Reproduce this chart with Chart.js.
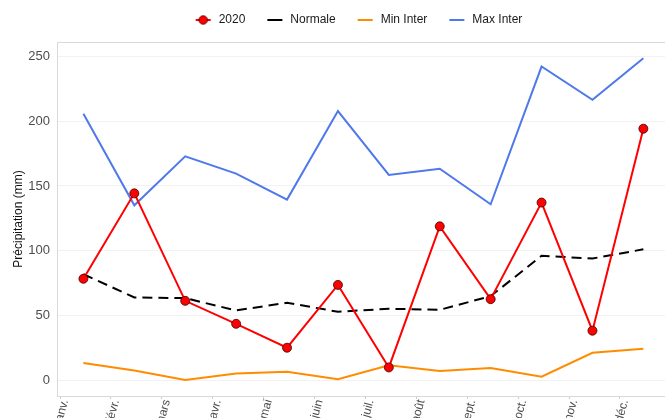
<!DOCTYPE html>
<html>
<head>
<meta charset="utf-8">
<script src="https://cdn.jsdelivr.net/npm/chart.js@4/dist/chart.umd.min.js"></script>
<style>
  html, body { margin: 0; padding: 0; background: #ffffff; }
  #wrap { width: 665px; height: 418px; position: relative; }
</style>
</head>
<body>
<div id="wrap"><canvas id="c" width="665" height="418"></canvas></div>
<script>
// ---- Data ----
const months = ["janv.", "févr.", "mars", "avr.", "mai", "juin", "juil.", "août", "sept.", "oct.", "nov.", "déc."];
const yTicks = [0, 50, 100, 150, 200, 250];
const series2020 = [78.5, 144.3, 61.5, 43.8, 25.4, 73.8, 10.2, 118.9, 62.8, 137.2, 38.5, 194.1];
const normale    = [82.0, 64.1, 63.6, 54.1, 60.0, 53.1, 55.4, 54.6, 65.1, 96.2, 94.1, 101.2];
const minInter   = [13.6, 7.9, 0.5, 5.6, 6.9, 1.2, 11.8, 7.4, 9.7, 3.1, 21.5, 24.6];
const maxInter   = [205.6, 135.1, 172.8, 159.5, 139.5, 207.7, 158.5, 163.3, 135.9, 242.0, 216.4, 248.4];
const seriesNames = ["2020", "Normale", "Min Inter", "Max Inter"];

// ---- Styling ----
const RED = "#ff0000", BLACK = "#000000", ORANGE = "#ff8c00", BLUE = "#4f79ea";
const FONT = "'Liberation Sans', Arial, Helvetica, sans-serif";
const MID = 0.46; // points sit mid-month, ticks at month start

function pts(arr) { return arr.map((v, i) => ({ x: i + MID, y: v })); }

function legendKey(color, withPoint) {
  const c = document.createElement("canvas");
  c.width = 25; c.height = 12;
  const g = c.getContext("2d");
  g.strokeStyle = color; g.lineWidth = 2;
  g.beginPath(); g.moveTo(8, 6); g.lineTo(23, 6); g.stroke();
  if (withPoint) {
    g.beginPath(); g.arc(15.5, 6, 4.3, 0, Math.PI * 2);
    g.fillStyle = RED; g.fill();
    g.lineWidth = 0.8; g.strokeStyle = "#3a0000"; g.stroke();
  }
  return c;
}
const keys = [legendKey(RED, true), legendKey(BLACK, false), legendKey(ORANGE, false), legendKey(BLUE, false)];

const panelBorder = {
  id: "panelBorder",
  beforeInit(chart) {
    const lg = chart.legend;
    if (lg) {
      const fit = lg.fit;
      lg.fit = function () { fit.call(this); this.height = 42; };
    }
  },
  afterLayout(chart) {
    const lg = chart.legend;
    if (lg) { lg.left -= 6; lg.right -= 6; }
  },
  afterDraw(chart) {
    const a = chart.chartArea, ctx = chart.ctx;
    ctx.save();
    ctx.strokeStyle = "#d9d9d9"; ctx.lineWidth = 1;
    ctx.beginPath();
    ctx.moveTo(a.left + 0.5, a.bottom + 0.5);
    ctx.lineTo(a.left + 0.5, a.top + 0.5);
    ctx.lineTo(a.right, a.top + 0.5);
    ctx.stroke();
    ctx.restore();
  }
};

new Chart(document.getElementById("c"), {
  type: "line",
  data: {
    datasets: [
      { label: seriesNames[0], data: pts(series2020), borderColor: RED, backgroundColor: RED, borderWidth: 2,
        pointRadius: 4.5, pointHoverRadius: 4.5, pointBackgroundColor: RED, pointBorderColor: "#3a0000", pointBorderWidth: 0.8, tension: 0 },
      { label: seriesNames[1], data: pts(normale), borderColor: BLACK, borderWidth: 2, borderDash: [10, 6],
        pointRadius: 0, tension: 0 },
      { label: seriesNames[2], data: pts(minInter), borderColor: ORANGE, borderWidth: 2, pointRadius: 0, tension: 0 },
      { label: seriesNames[3], data: pts(maxInter), borderColor: BLUE, borderWidth: 2, pointRadius: 0, tension: 0 }
    ]
  },
  options: {
    responsive: false,
    animation: false,
    devicePixelRatio: 1,
    layout: { padding: 0, autoPadding: false },
    plugins: {
      tooltip: { enabled: false },
      legend: {
        position: "top",
        fullSize: false,
        labels: {
          usePointStyle: true,
          pointStyleWidth: 25,
          padding: 14,
          color: "#1a1a1a",
          font: { family: FONT, size: 12 },
          generateLabels(chart) {
            return chart.data.datasets.map((ds, i) => ({
              text: ds.label, pointStyle: keys[i], fillStyle: "transparent",
              strokeStyle: "transparent", lineWidth: 0, hidden: false, datasetIndex: i, fontColor: "#1a1a1a"
            }));
          }
        }
      }
    },
    scales: {
      x: {
        type: "linear",
        min: -0.059,
        max: 11.885,
        afterFit(s) { s.height = 22; s.paddingLeft = 0; s.paddingRight = 0; },
        afterBuildTicks(s) { s.ticks = months.map((_, i) => ({ value: i })); },
        ticks: {
          autoSkip: false, includeBounds: false, minRotation: 75, maxRotation: 75, padding: -1,
          labelOffset: 5,
          color: "#4d4d4d", font: { family: FONT, size: 12 },
          callback: (v) => months[Math.round(v)]
        },
        grid: { drawOnChartArea: false, drawTicks: true, tickLength: 3, color: "#cccccc" },
        border: { display: true, color: "#d9d9d9" }
      },
      y: {
        type: "linear",
        min: -11.8,
        max: 260.9,
        afterFit(s) { s.width = 57; },
        afterBuildTicks(s) { s.ticks = yTicks.map(v => ({ value: v })); },
        ticks: { padding: 7, color: "#4d4d4d", font: { family: FONT, size: 13 } },
        grid: { color: "#f2f2f2", lineWidth: 1, drawTicks: false },
        border: { display: false },
        title: { display: true, text: "Précipitation (mm)", color: "#111111",
                 font: { family: FONT, size: 12 }, padding: { top: 11, bottom: 4 } }
      }
    }
  },
  plugins: [panelBorder]
});
</script>
</body>
</html>
